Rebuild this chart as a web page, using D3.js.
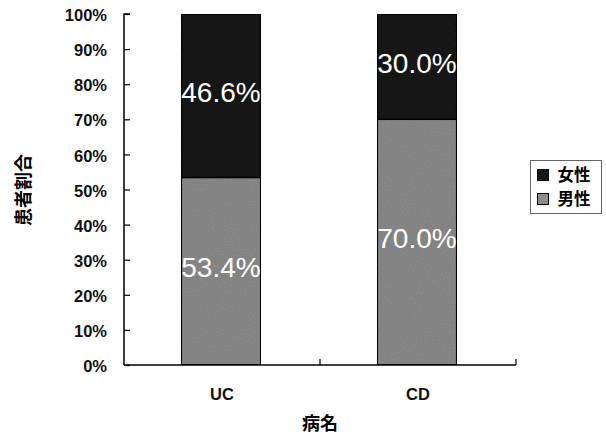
<!DOCTYPE html>
<html>
<head>
<meta charset="utf-8">
<script src="https://cdn.jsdelivr.net/npm/d3@7"></script>
<style>
  body { margin: 0; background: #fff; }
  text { font-family: "Liberation Sans", Arial, sans-serif; }
</style>
</head>
<body>
<div id="chart"></div>
<script>
// data
const categories = ["UC", "CD"];
const seriesNames = ["男性", "女性"];
const male = [53.4, 70.0];
const female = [46.6, 30.0];
const yTicks = [0, 10, 20, 30, 40, 50, 60, 70, 80, 90, 100];

const colors = { "男性": "#8c8c8c", "女性": "#161616" };

const width = 606, height = 434;
const margin = { top: 14, right: 90, bottom: 68, left: 124 };

const svg = d3.select("#chart").append("svg")
	.attr("width", width)
	.attr("height", height);

// texture so the bars look a bit like the scanned print
const defs = svg.append("defs");
const f = defs.append("filter").attr("id", "grain")
	.attr("x", 0).attr("y", 0).attr("width", 1).attr("height", 1);
f.append("feTurbulence").attr("type", "fractalNoise").attr("baseFrequency", 0.9)
	.attr("numOctaves", 1).attr("seed", 3).attr("result", "noise");
f.append("feColorMatrix").attr("in", "noise").attr("type", "matrix")
	.attr("values", "0 0 0 0 0  0 0 0 0 0  0 0 0 0 0  0 0 0 0.35 -0.05")
	.attr("result", "dots");
f.append("feComposite").attr("in", "dots").attr("in2", "SourceGraphic").attr("operator", "atop");

const x = d3.scaleBand()
	.domain(categories)
	.range([margin.left, width - margin.right])
	.padding(0);

const y = d3.scaleLinear()
	.domain([0, 100])
	.range([height - margin.bottom - 1, margin.top]);

const barW = x.bandwidth() * 0.405;

// stacked data
const rows = categories.map((c, i) => ({ cat: c, "男性": male[i], "女性": female[i] }));
const stack = d3.stack().keys(seriesNames)(rows);

const g = svg.append("g");
stack.forEach(layer => {
	g.append("g").selectAll("rect")
		.data(layer)
		.join("rect")
		.attr("x", d => x(d.data.cat) + (x.bandwidth() - barW) / 2 - 1)
		.attr("y", d => y(d[1]))
		.attr("width", barW)
		.attr("height", d => y(d[0]) - y(d[1]))
		.attr("fill", colors[layer.key])
		.attr("stroke", "#000")
		.attr("stroke-width", 1.5)
		.attr("filter", "url(#grain)");

	g.append("g").selectAll("text")
		.data(layer)
		.join("text")
		.attr("x", d => x(d.data.cat) + x.bandwidth() / 2 - 1)
		.attr("y", d => (y(d[0]) + y(d[1])) / 2 - 4)
		.attr("dy", "0.36em")
		.attr("text-anchor", "middle")
		.attr("fill", "#fff")
		.attr("font-size", "28px")
		.text(d => (d[1] - d[0]).toFixed(1) + "%");
});

// Y axis
const yAxis = svg.append("g")
	.attr("transform", `translate(${margin.left},0)`)
	.call(d3.axisRight(y).tickValues(yTicks).tickSize(6).tickFormat(d => d + "%"));
yAxis.select(".domain").attr("d", `M6,${y(100)}H0V${y(0)}`).attr("stroke-width", 1.5);
yAxis.selectAll(".tick line").attr("stroke-width", 1.2);
yAxis.selectAll(".tick text")
	.attr("x", -17)
	.attr("dy", "0.4em")
	.attr("text-anchor", "end")
	.attr("font-size", "16.5px")
	.attr("font-weight", "bold")
	.attr("fill", "#111");

// X axis
const xr = x.range();
const xAxis = svg.append("g")
	.attr("transform", `translate(0,${y(0)})`);
xAxis.append("path")
	.attr("d", `M${xr[0]},0H${xr[1]}`)
	.attr("stroke", "#000").attr("stroke-width", 1.5).attr("fill", "none");
xAxis.selectAll("line")
	.data(categories.slice(1).map(c => x(c)).concat([xr[1]]))
	.join("line")
	.attr("x1", d => d).attr("x2", d => d)
	.attr("y1", 0).attr("y2", -6)
	.attr("stroke", "#000").attr("stroke-width", 1.2);
xAxis.selectAll("text")
	.data(categories)
	.join("text")
	.attr("x", d => x(d) + x.bandwidth() / 2)
	.attr("y", 35)
	.attr("text-anchor", "middle")
	.attr("font-size", "16.5px")
	.attr("font-weight", "bold")
	.attr("fill", "#111")
	.text(d => d);

// axis titles
svg.append("text")
	.attr("x", (xr[0] + xr[1]) / 2)
	.attr("y", 430)
	.attr("text-anchor", "middle")
	.attr("font-size", "18px")
	.attr("font-weight", "bold")
	.style("font-family", "'Noto Sans CJK JP', sans-serif")
	.text("病名");

svg.append("text")
	.attr("transform", "translate(30,190) rotate(-90)")
	.attr("text-anchor", "middle")
	.attr("font-size", "18px")
	.attr("font-weight", "bold")
	.style("font-family", "'Noto Sans CJK JP', sans-serif")
	.text("患者割合");

// legend
const legend = svg.append("g").attr("transform", "translate(530.5,160.5)");
legend.append("rect")
	.attr("width", 71).attr("height", 53)
	.attr("fill", "#fff").attr("stroke", "#666").attr("stroke-width", 1);
const items = legend.selectAll("g.item")
	.data(["女性", "男性"])
	.join("g")
	.attr("class", "item")
	.attr("transform", (d, i) => `translate(7,${9 + i * 24})`);
items.append("rect")
	.attr("width", 11).attr("height", 11)
	.attr("fill", d => colors[d])
	.attr("stroke", "#000").attr("stroke-width", 1);
items.append("text")
	.attr("x", 20).attr("y", 5.5)
	.attr("dy", "0.38em")
	.attr("font-size", "16.5px")
	.attr("font-weight", "bold")
	.style("font-family", "'Noto Sans CJK JP', sans-serif")
	.attr("fill", "#000")
	.text(d => d);
</script>
</body>
</html>
